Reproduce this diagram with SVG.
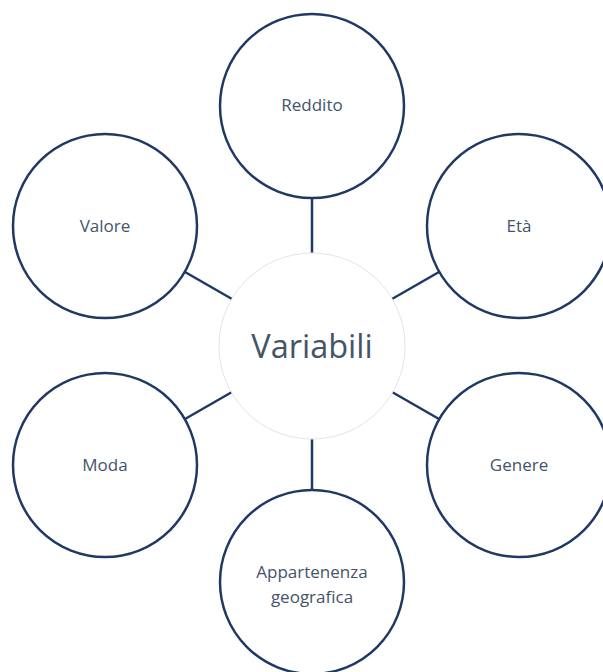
<svg xmlns="http://www.w3.org/2000/svg" width="603" height="672" viewBox="0 0 603 672">
<style>
.c{fill:#ffffff;stroke:#1f3864;stroke-width:2.5}
.l{stroke:#1f3864;stroke-width:2.5;fill:none}
.t{font-family:"Open Sans","Noto Sans",sans-serif;font-size:17px;fill:#44546a;text-anchor:middle}
.big{font-family:"Open Sans","Noto Sans",sans-serif;font-size:32.5px;fill:#44546a;text-anchor:middle}
</style>
<rect width="603" height="672" fill="#ffffff"/>
<g id="connectors">
<line class="l" x1="312" y1="199" x2="312" y2="253"/>
<line class="l" x1="439" y1="272" x2="392" y2="299"/>
<line class="l" x1="439" y1="419" x2="392" y2="392"/>
<line class="l" x1="312" y1="490" x2="312" y2="439"/>
<line class="l" x1="185" y1="419" x2="232" y2="392"/>
<line class="l" x1="185" y1="272" x2="232" y2="299"/>
</g>
<g id="center">
<circle cx="312" cy="346" r="93" fill="#ffffff" stroke="#e4e4e4" stroke-width="1"/>
<text class="big" x="312" y="358">Variabili</text>
</g>
<g id="reddito">
<circle class="c" cx="312" cy="106" r="92"/>
<text class="t" x="312" y="111">Reddito</text>
</g>
<g id="eta">
<circle class="c" cx="519" cy="226" r="92"/>
<text class="t" x="519" y="232">Età</text>
</g>
<g id="genere">
<circle class="c" cx="519" cy="465" r="92"/>
<text class="t" x="519" y="471">Genere</text>
</g>
<g id="appartenenza">
<circle class="c" cx="312" cy="582" r="92"/>
<text class="t" x="312" y="578">Appartenenza</text>
<text class="t" x="312" y="603">geografica</text>
</g>
<g id="moda">
<circle class="c" cx="105" cy="465" r="92"/>
<text class="t" x="105" y="471">Moda</text>
</g>
<g id="valore">
<circle class="c" cx="105" cy="226" r="92"/>
<text class="t" x="105" y="232">Valore</text>
</g>
</svg>
